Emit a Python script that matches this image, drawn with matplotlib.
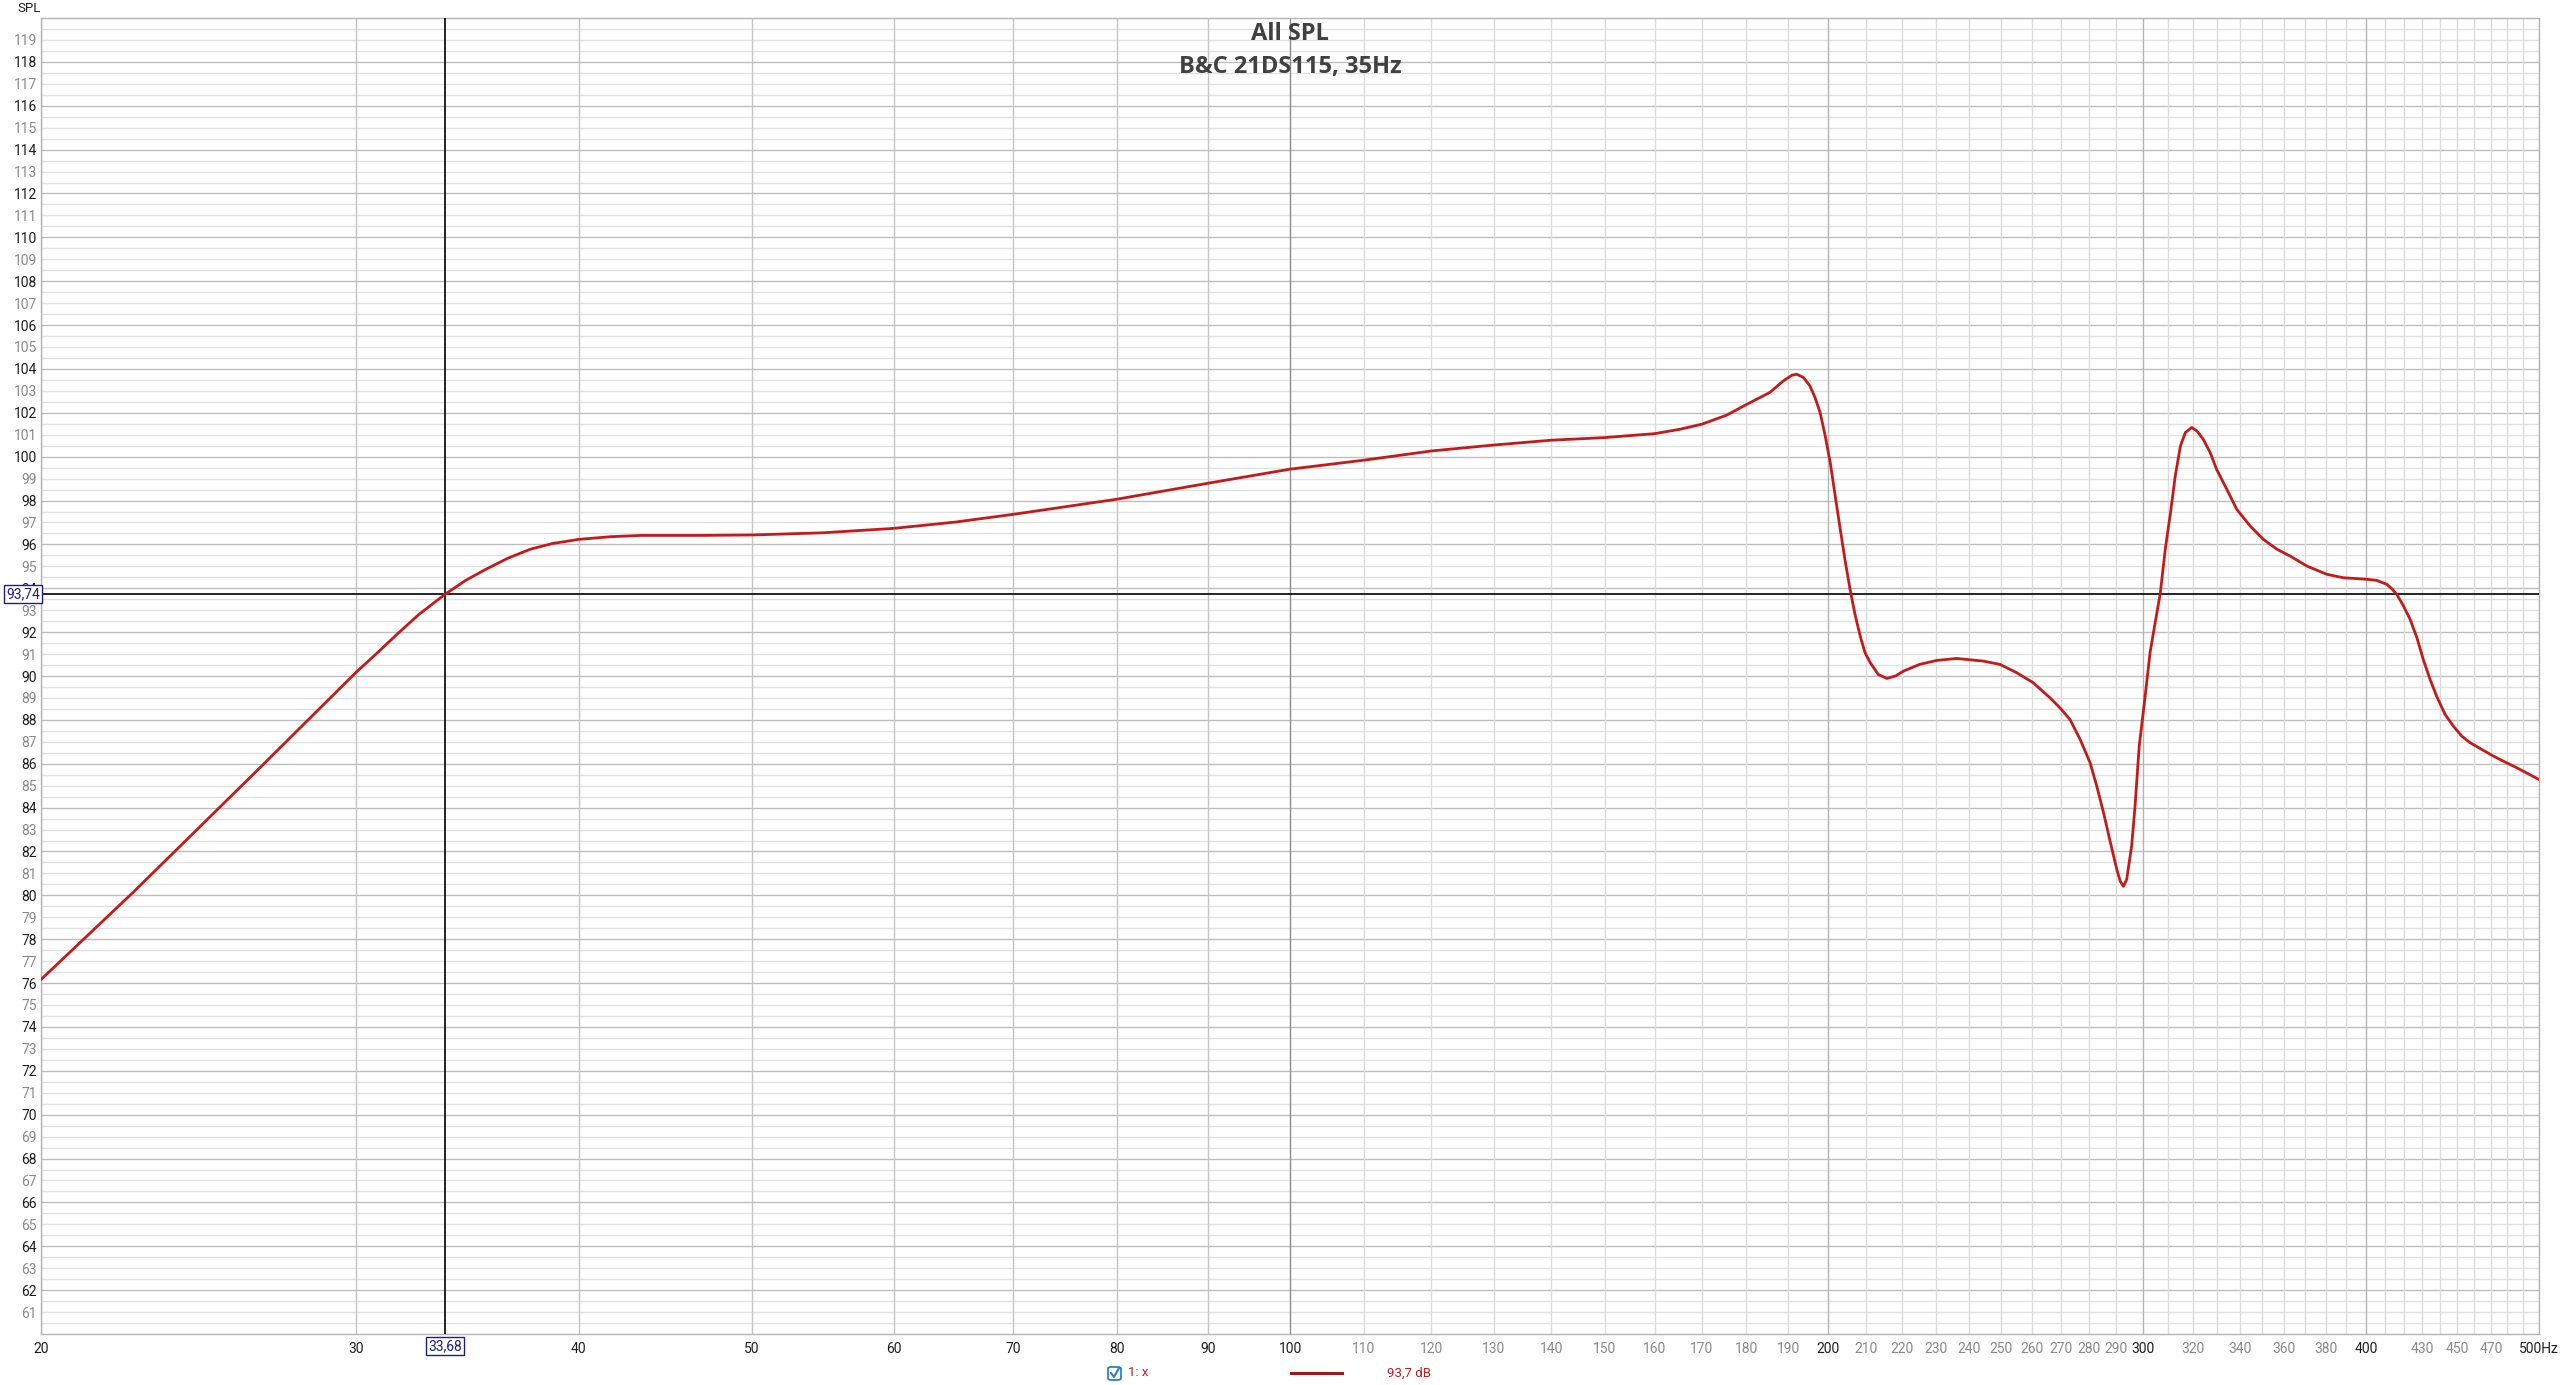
import matplotlib
matplotlib.use('Agg')
import matplotlib.pyplot as plt
from matplotlib.patches import FancyBboxPatch
from matplotlib.lines import Line2D
from matplotlib.ticker import NullLocator, NullFormatter

# ---------------- data ----------------
freq = [20, 22.53, 26.62, 30, 30.91, 31.62, 32.54, 33.68, 34.57, 35.47, 36.5, 37.57,
        38.66, 40, 41.66, 43.36, 46.76, 50, 54.8, 60, 65, 70, 80, 90, 100, 110, 120,
        130, 140, 150, 160, 165.3, 170, 175.5, 180, 185.6, 188.8, 190.9, 192.1, 193.8,
        195.4, 196.7, 198.0, 199.3, 200.6, 201.9, 203.2, 204.5, 205.8, 207.1, 208.5,
        209.8, 211.2, 213.4, 215.8, 218.2, 220.4, 225.1, 230.1, 236.1, 244.3, 249.6,
        255.1, 260.6, 266.3, 269.7, 273.2, 276.8, 280.4, 282.8, 285.3, 287.7, 290.2,
        291.5, 292.7, 293.9, 295.8, 297.1, 298.7, 301.0, 302.9, 304.9, 306.9, 308.9,
        311.0, 312.9, 315.0, 317.0, 319.6, 321.8, 324.4, 327.3, 330.0, 334.4, 338.7,
        344.6, 350.5, 356.7, 362.8, 370.8, 380.3, 388.5, 400.4, 405.6, 411.0, 413.6,
        416.3, 419.9, 423.5, 427.2, 430.7, 434.5, 438.2, 443.0, 447.8, 452.6, 457.5,
        465.4, 471.4, 479.6, 485.8, 500]
spl = [76.16, 80.15, 85.95, 90.15, 91.12, 91.88, 92.80, 93.74, 94.36, 94.86, 95.37, 95.78,
       96.04, 96.23, 96.35, 96.41, 96.41, 96.43, 96.53, 96.73, 97.02, 97.37, 98.06, 98.79,
       99.43, 99.84, 100.26, 100.53, 100.75, 100.87, 101.05, 101.25, 101.48, 101.89, 102.37,
       102.93, 103.45, 103.71, 103.76, 103.61, 103.23, 102.70, 102.01, 100.95, 99.73, 98.20,
       96.69, 95.24, 93.95, 92.81, 91.82, 91.06, 90.61, 90.07, 89.89, 90.00, 90.22, 90.53,
       90.71, 90.80, 90.68, 90.53, 90.15, 89.69, 89.00, 88.55, 88.02, 87.11, 86.04, 84.98,
       83.76, 82.47, 81.18, 80.64, 80.41, 80.72, 82.24, 84.06, 86.80, 89.08, 91.06, 92.43,
       93.75, 95.78, 97.45, 99.12, 100.49, 101.10, 101.33, 101.17, 100.79, 100.19, 99.43,
       98.51, 97.60, 96.84, 96.23, 95.78, 95.47, 95.01, 94.64, 94.48, 94.41, 94.36, 94.18,
       93.98, 93.72, 93.19, 92.58, 91.75, 90.76, 89.85, 89.08, 88.25, 87.71, 87.26, 86.96,
       86.61, 86.35, 86.04, 85.82, 85.28]

title_lines = ["All SPL", "B&C 21DS115, 35Hz"]
y_label = "SPL"
cursor_freq = 33.68
cursor_spl = 93.74
cursor_freq_label = "33,68"
cursor_spl_label = "93,74"
legend_label = "1: x"
legend_value = "93,7 dB"

y_tick_values = list(range(61, 120))
x_tick_values = [20, 30, 40, 50, 60, 70, 80, 90, 100, 110, 120, 130, 140, 150, 160, 170,
                 180, 190, 200, 210, 220, 230, 240, 250, 260, 270, 280, 290, 300, 320,
                 340, 360, 380, 400, 430, 450, 470, 500]
x_tick_labels = [str(v) for v in x_tick_values[:-1]] + ["500Hz"]
x_dark_labels = [20, 30, 40, 50, 60, 70, 80, 90, 100, 200, 300, 400, 500]
x_grid_values = list(range(20, 501, 10))

# ---------------- figure ----------------
W, H = 2560, 1385
fig = plt.figure(figsize=(W / 100, H / 100), dpi=100)
L, R, T, B = 41, 2539, 18, 1334
ax = fig.add_axes([L / W, 1 - B / H, (R - L) / W, (B - T) / H])
ax.set_xscale('log')
ax.set_xlim(20, 500)
ax.set_ylim(60, 120)

tick_font = ['Liberation Sans Narrow', 'Roboto', 'DejaVu Sans']

# horizontal grid (every 0.5 dB)
for i in range(121, 240):
    v = i / 2
    if v == int(v) and int(v) % 2 == 0:
        ax.axhline(v, color='#bdbdbd', lw=1.0, zorder=1)
    else:
        ax.axhline(v, color='#e1e1e1', lw=1.0, zorder=0.9)

# vertical grid
for f in x_grid_values:
    if f == 100:
        c = '#8c8c8c'
    elif f in (200, 300, 400):
        c = '#b4b4b4'
    elif f < 100:
        c = '#c4c4c4'
    else:
        c = '#dcdcdc'
    ax.axvline(f, color=c, lw=1.0, zorder=1)

for s in ax.spines.values():
    s.set_color('#b4b4b4')
    s.set_linewidth(1.0)

# cursor lines
ax.axhline(cursor_spl, color='black', lw=1.2, zorder=3)
ax.axvline(cursor_freq, color='black', lw=1.2, zorder=3)

# curve
ax.plot(freq, spl, color='#c41a1a', lw=2.0, zorder=4, solid_capstyle='round',
        solid_joinstyle='round', antialiased=True)

# ticks
ax.xaxis.set_minor_locator(NullLocator())
ax.xaxis.set_minor_formatter(NullFormatter())
ax.set_xticks(x_tick_values)
ax.set_xticklabels(x_tick_labels)
ax.set_yticks(y_tick_values)
ax.set_yticklabels([str(v) for v in y_tick_values])
ax.tick_params(axis='both', length=0, labelsize=10)
ax.tick_params(axis='x', pad=6)
ax.tick_params(axis='y', pad=3)
for lab, v in zip(ax.get_xticklabels(), x_tick_values):
    lab.set_family(tick_font)
    lab.set_color('#1e1e1e' if v in x_dark_labels else '#8a8a8a')
for lab, v in zip(ax.get_yticklabels(), y_tick_values):
    lab.set_family(tick_font)
    lab.set_color('#1e1e1e' if v % 2 == 0 else '#8a8a8a')

# title
fig.text(1290 / W, 1 - 34 / H, title_lines[0], ha='center', va='center',
         fontsize=17, fontweight='bold', color='#404040', family=['Open Sans', 'DejaVu Sans'])
fig.text(1290 / W, 1 - 67 / H, title_lines[1], ha='center', va='center',
         fontsize=17, fontweight='bold', color='#404040', family=['Open Sans', 'DejaVu Sans'])

# y label
fig.text(29 / W, 1 - 9 / H, y_label, ha='center', va='center', fontsize=9.5,
         color='#1e1e1e', family=tick_font)

# cursor value boxes
fig.canvas.draw()
inv = fig.transFigure.inverted()
px_y = ax.transData.transform((20, cursor_spl))[1]
px_x = ax.transData.transform((cursor_freq, 60))[0]
navy = '#1c1c8c'
ty = inv.transform((0, px_y))[1]
fig.text(23 / W, ty, cursor_spl_label, ha='center', va='center', fontsize=10,
         color=navy, family=tick_font, zorder=10,
         bbox=dict(boxstyle='square,pad=0.15', fc='white', ec=navy, lw=1.0))
tx = inv.transform((px_x, 0))[0]
fig.text(tx, 1 - 1346 / H, cursor_freq_label, ha='center', va='center', fontsize=10,
         color=navy, family=tick_font, zorder=10,
         bbox=dict(boxstyle='square,pad=0.15', fc='white', ec=navy, lw=1.0))

# legend: checkbox
cb = FancyBboxPatch((1108 / W, 1 - 1380 / H), 13 / W, 13 / H,
                    boxstyle='round,pad=0,rounding_size=0.0012',
                    transform=fig.transFigure, fc='white', ec='#2a7fd4', lw=1.3)
fig.add_artist(cb)
fig.add_artist(Line2D([1111 / W, 1114 / W, 1119 / W],
                      [1 - 1373 / H, 1 - 1377 / H, 1 - 1368 / H],
                      transform=fig.transFigure, color='#2a7fd4', lw=1.5))
fig.text(1128 / W, 1 - 1373 / H, legend_label, ha='left', va='center', fontsize=9.5,
         color='#c41a1a', family=tick_font)
fig.add_artist(Line2D([1291 / W, 1342 / W], [1 - 1373 / H, 1 - 1373 / H],
                      transform=fig.transFigure, color='#a01818', lw=2.2))
fig.text(1387 / W, 1 - 1373 / H, legend_value, ha='left', va='center', fontsize=9.5,
         color='#c41a1a', family=tick_font)

fig.savefig('out.png', dpi=100, facecolor='white')
